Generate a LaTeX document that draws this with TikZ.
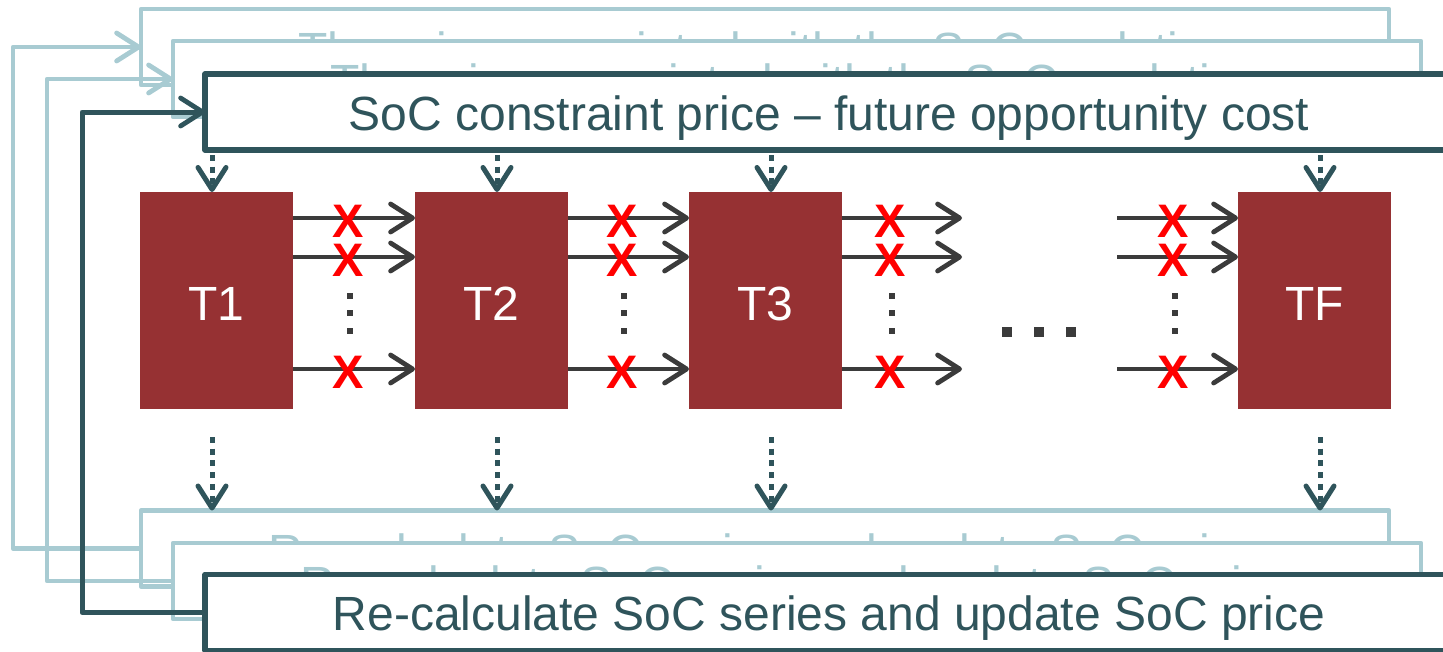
\documentclass[tikz,border=0pt]{standalone}
\usepackage{fontspec}
\setmainfont{Liberation Sans}
\usetikzlibrary{arrows.meta,calc}
\definecolor{darkteal}{HTML}{2F545B}
\definecolor{lightteal}{HTML}{A8CBD2}
\definecolor{boxred}{HTML}{963133}
\definecolor{arrgray}{HTML}{3B3B3B}
\definecolor{xred}{HTML}{FF0000}
\begin{document}
\begin{tikzpicture}[x=1pt,y=-1pt,
 bigbox/.style={draw, fill=white, minimum width=1248pt, minimum height=76pt, inner sep=0pt, outer sep=0pt, line join=round, font=\fontsize{48}{58}\selectfont, text height=36pt, text depth=0pt},
 backbox/.style={bigbox, draw=lightteal, line width=4.5pt, text=lightteal, text height=39pt},
 frontbox/.style={bigbox, draw=darkteal, line width=5.5pt, text=darkteal},
 tbox/.style={fill=boxred, minimum width=153pt, minimum height=217pt, inner sep=0pt, outer sep=0pt, text=white, font=\fontsize{48}{58}\selectfont, text height=39pt, text depth=0pt},
 flow/.style={draw=arrgray, line width=4.5pt, -{Straight Barb[length=22pt,width=28pt,line width=4.8pt,round]}},
 xmark/.style={text=xred, font=\fontsize{47}{56}\selectfont\bfseries, inner sep=0pt},
 feed/.style={line width=4.5pt, line join=round, -{Straight Barb[length=22pt,width=28pt,line width=4.8pt,round]}},
 dotarrow/.style={draw=darkteal, line width=5pt, dash pattern=on 6pt off 5.7pt, -{Straight Barb[length=22pt,width=28pt,line width=5pt,round]}},
 sdot/.style={fill=arrgray, minimum size=5.5pt, inner sep=0pt},
 bdot/.style={fill=arrgray, minimum size=10pt, inner sep=0pt},
]
\useasboundingbox (0,0) rectangle (1443,651);
% top stack
\node[backbox] (A) at (765,47) {The price associated with the SoC evolution};
\node[backbox] (B) at (797,79) {The price associated with the SoC evolution};
\node[frontbox] (C) at (829,112) {SoC constraint price – future opportunity cost};
% bottom stack
\node[backbox] (D) at (765,548.5) {Re-calculate SoC series and update SoC price};
\node[backbox] (E) at (797,581) {Re-calculate SoC series and update SoC price};
\node[frontbox] (F) at (829,612.5) {Re-calculate SoC series and update SoC price};
% feedback loops
\coordinate (f1) at (13,47);
\coordinate (f2) at (47,79);
\coordinate (f3) at (82,112);
\draw[feed, draw=lightteal] (D.west) -| (f1) -- (A.west);
\draw[feed, draw=lightteal] (E.west) -| (f2) -- (B.west);
\draw[feed, draw=darkteal, line width=5pt] (F.west) -| (f3) -- (C.west);
% time blocks
\node[tbox] (T1) at (216.5,300.5) {T1};
\node[tbox] (T2) at (491.5,300.5) {T2};
\node[tbox] (T3) at (765.5,300.5) {T3};
\node[tbox] (TF) at (1314.5,300.5) {TF};
% rows
\coordinate (r1) at (0,218);
\coordinate (r2) at (0,257);
\coordinate (r3) at (0,369);
\coordinate (e3) at (962,0);
\coordinate (s4) at (1117,0);
\foreach \r in {r1,r2,r3} {
  \draw[flow] (T1.east |- \r) -- (T2.west |- \r);
  \draw[flow] (T2.east |- \r) -- (T3.west |- \r);
  \draw[flow] (T3.east |- \r) -- (e3 |- \r);
  \draw[flow] (s4 |- \r) -- (TF.west |- \r);
}
% crosses and small dots
\foreach \gx [count=\i] in {348,622,890,1173} {
  \node[xmark] (x\i a) at (\gx,221) {X};
  \node[xmark] (x\i b) at (\gx,260) {X};
  \node[xmark] (x\i c) at (\gx,372) {X};
  \node[sdot] (d\i a) at (\gx+2,296) {};
  \node[sdot] (d\i b) at (\gx+2,313) {};
  \node[sdot] (d\i c) at (\gx+2,331) {};
}
% big ellipsis
\node[bdot] (e1) at (1007,332) {};
\node[bdot] (e2) at (1039,332) {};
\node[bdot] (e3d) at (1071,332) {};
% dotted arrows
\foreach \x/\t in {212/T1,497/T2,771/T3,1320/TF} {
  \coordinate (a\t) at (\x,0);
  \draw[dotarrow] ($(a\t |- C.south)+(0,5)$) -- (a\t |- \t.north);
  \draw[dotarrow] ($(a\t |- \t.south)+(0,28)$) -- (a\t |- D.north);
}
\end{tikzpicture}
\end{document}
